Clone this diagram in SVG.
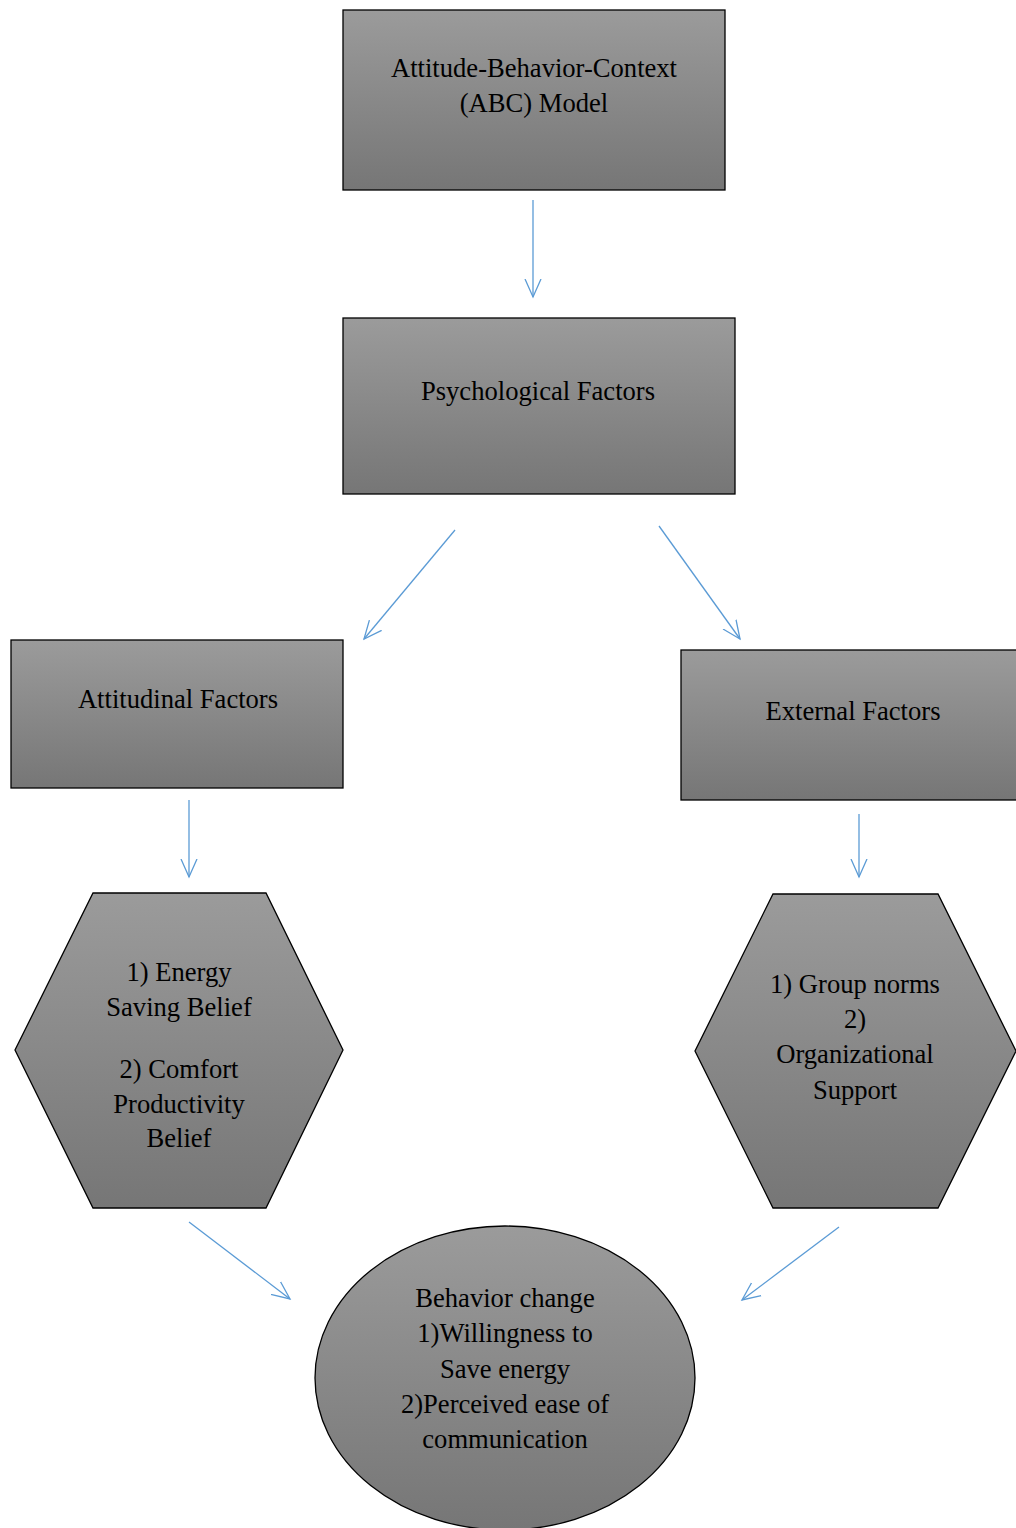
<svg xmlns="http://www.w3.org/2000/svg" width="1016" height="1528" viewBox="0 0 1016 1528">
<defs>
<linearGradient id="g" x1="0" y1="0" x2="0" y2="1">
<stop offset="0" stop-color="#9b9b9b"/>
<stop offset="1" stop-color="#767676"/>
</linearGradient>
<marker id="ah" viewBox="0 0 20 20" refX="18" refY="10" markerWidth="20" markerHeight="20" markerUnits="userSpaceOnUse" orient="auto">
<path d="M0,2 L18,10 L0,18" fill="none" stroke="#5b9bd5" stroke-width="1.3"/>
</marker>
</defs>
<style>
.n{fill:url(#g);stroke:#000;stroke-width:1.3}
.t{font-family:"Liberation Serif","Times New Roman",serif;font-size:26.6px;fill:#000;text-anchor:middle}
.c{stroke:#5b9bd5;stroke-width:1.3;fill:none;marker-end:url(#ah)}
</style>
<g id="connectors">
<line class="c" x1="533" y1="200" x2="533" y2="297"/>
<line class="c" x1="455" y1="530" x2="364" y2="639"/>
<line class="c" x1="659" y1="526" x2="740" y2="639"/>
<line class="c" x1="189" y1="800" x2="189" y2="877"/>
<line class="c" x1="859" y1="814" x2="859" y2="877"/>
<line class="c" x1="189" y1="1222" x2="290" y2="1299"/>
<line class="c" x1="839" y1="1227" x2="742" y2="1300"/>
</g>
<g id="abc">
<rect class="n" x="343" y="10" width="382" height="180"/>
<text class="t" x="534" y="77">Attitude-Behavior-Context</text>
<text class="t" x="534" y="112">(ABC) Model</text>
</g>
<g id="psych">
<rect class="n" x="343" y="318" width="392" height="176"/>
<text class="t" x="538" y="400">Psychological Factors</text>
</g>
<g id="attitudinal">
<rect class="n" x="11" y="640" width="332" height="148"/>
<text class="t" x="178" y="708">Attitudinal Factors</text>
</g>
<g id="external">
<rect class="n" x="681" y="650" width="340" height="150"/>
<text class="t" x="853" y="720">External Factors</text>
</g>
<g id="beliefs">
<polygon class="n" points="93,893 266,893 343,1050 266,1208 93,1208 15,1050"/>
<text class="t" x="179" y="981">1) Energy</text>
<text class="t" x="179" y="1016">Saving Belief</text>
<text class="t" x="179" y="1078">2) Comfort</text>
<text class="t" x="179" y="1113">Productivity</text>
<text class="t" x="179" y="1147">Belief</text>
</g>
<g id="norms">
<polygon class="n" points="773,894 938,894 1016,1051 938,1208 773,1208 695,1051"/>
<text class="t" x="855" y="993">1) Group norms</text>
<text class="t" x="855" y="1028">2)</text>
<text class="t" x="855" y="1063">Organizational</text>
<text class="t" x="855" y="1099">Support</text>
</g>
<g id="behavior">
<ellipse class="n" cx="505" cy="1378" rx="190" ry="152"/>
<text class="t" x="505" y="1307">Behavior change</text>
<text class="t" x="505" y="1342">1)Willingness to</text>
<text class="t" x="505" y="1378">Save energy</text>
<text class="t" x="505" y="1413">2)Perceived ease of</text>
<text class="t" x="505" y="1448">communication</text>
</g>
</svg>
